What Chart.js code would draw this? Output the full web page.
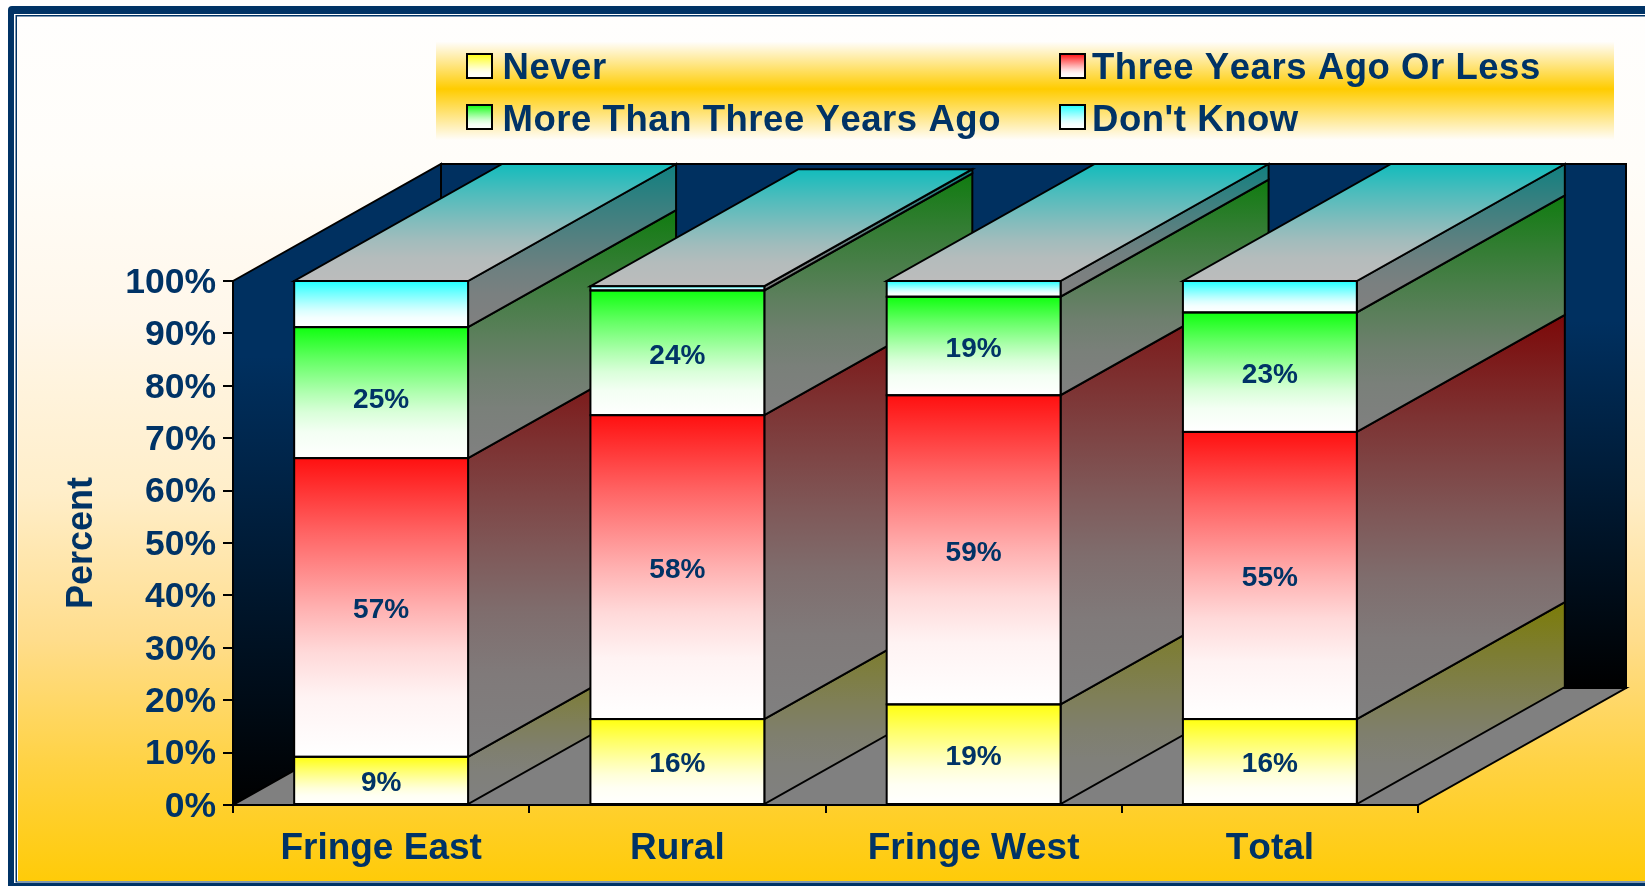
<!DOCTYPE html>
<html>
<head>
<meta charset="utf-8">
<title>Percent by area</title>
<script src="https://cdn.jsdelivr.net/npm/chart.js@4"></script>
<style>
  html, body { margin: 0; padding: 0; background: #fff; }
  canvas { display: block; }
</style>
</head>
<body>
<canvas id="areaChart" width="1645" height="886"></canvas>
<script>
// Chart data
const categories = ['Fringe East', 'Rural', 'Fringe West', 'Total'];
const seriesNames = ['Never', 'Three Years Ago Or Less', 'More Than Three Years Ago', "Don't Know"];
const never = [9.2, 16.4, 19.2, 16.4];
const threeOrLess = [57, 58, 59, 54.8];
const moreThanThree = [25, 23.8, 18.8, 22.8];
const dontKnow = [8.8, 0.8, 3, 6];
const seriesValues = [never, threeOrLess, moreThanThree, dontKnow];

// Styles
const navy = '#003366';
const fontName = '"Liberation Sans", Arial, sans-serif';
const bright = ['#ffff10', '#ff1010', '#10ff10', '#20ffff'];
const dark = ['#7c7c08', '#7c0808', '#107c10', '#108080'];
const depthX = 208;
const depthY = 117;
// the one label that sits off centre in its segment
const labelNudge = { '2,0': 5 };

// same falloff for fronts, sides and tops: quick at first, long pale tail
const fadeStops = [[0, 0], [0.25, 0.35], [0.5, 0.67], [0.65, 0.84], [0.8, 0.95], [1, 1]];

function fade(ctx, y0, y1, from, to) {
    const g = ctx.createLinearGradient(0, y0, 0, y1);
    const a = [1, 3, 5].map(i => parseInt(from.substr(i, 2), 16));
    const b = [1, 3, 5].map(i => parseInt(to.substr(i, 2), 16));
    fadeStops.forEach(s => {
        g.addColorStop(s[0], 'rgb(' + a.map((c, i) => Math.round(c + (b[i] - c) * s[1])).join(',') + ')');
    });
    return g;
}

function frontFill(context) {
    const chart = context.chart;
    const d = context.datasetIndex;
    if (!chart.scales.y || context.dataIndex === undefined) return bright[d];
    let low = 0;
    for (let k = 0; k < d; k++) low += seriesValues[k][context.dataIndex];
    const high = low + seriesValues[d][context.dataIndex];
    const y0 = chart.scales.y.getPixelForValue(high);
    const y1 = chart.scales.y.getPixelForValue(low);
    if (!isFinite(y0) || !isFinite(y1)) return bright[d];
    return fade(chart.ctx, y0, y1, bright[d], '#ffffff');
}

function poly(ctx, pts, fill) {
    ctx.beginPath();
    pts.forEach((p, i) => i ? ctx.lineTo(p[0], p[1]) : ctx.moveTo(p[0], p[1]));
    ctx.closePath();
    ctx.fillStyle = fill;
    ctx.fill();
    ctx.strokeStyle = '#000';
    ctx.lineWidth = 2;
    ctx.stroke();
}

// Page background, frame, legend band and the walls/floor of the box
const backdrop = {
    id: 'backdrop',
    beforeDraw(chart) {
        const ctx = chart.ctx;
        const w = chart.width, h = chart.height;
        ctx.fontKerning = 'none';
        ctx.save();
        ctx.fillStyle = '#ffffff';
        ctx.fillRect(0, 0, w, h);

        // frame
        ctx.fillStyle = '#003366';
        ctx.beginPath();
        ctx.roundRect(8, 6, w, h, 4);
        ctx.fill();
        ctx.fillStyle = '#ffffff';
        ctx.fillRect(14, 14, w, h - 17);
        ctx.fillStyle = '#003366';
        ctx.fillRect(15.5, 15, w, h - 18.5);
        ctx.fillStyle = '#ffffff';
        ctx.fillRect(17, 16.5, w, h - 21);
        ctx.fillStyle = '#003366';
        ctx.fillRect(0, 883, w, 3);
        ctx.fillStyle = '#ffffff';
        ctx.fillRect(0, 883, 8, 3);

        // page gradient
        const bg = ctx.createLinearGradient(0, 17, 0, 881);
        bg.addColorStop(0, '#fffefd');
        bg.addColorStop(0.17, '#fffdf9');
        bg.addColorStop(0.35, '#fff7ea');
        bg.addColorStop(0.55, '#ffeec9');
        bg.addColorStop(0.72, '#ffdd8c');
        bg.addColorStop(0.87, '#ffd241');
        bg.addColorStop(1, '#ffcb08');
        ctx.fillStyle = bg;
        ctx.fillRect(18, 17, w - 18, 864);

        // legend band
        const band = ctx.createLinearGradient(0, 42, 0, 140);
        band.addColorStop(0, '#fffdfa');
        band.addColorStop(0.48, '#ffcc00');
        band.addColorStop(1, '#fffdfa');
        ctx.fillStyle = band;
        ctx.fillRect(436, 42, 1178, 98);

        // walls and floor
        const a = chart.chartArea;
        const wall = ctx.createLinearGradient(0, a.top - depthY, 0, a.bottom - depthY);
        wall.addColorStop(0, '#003060');
        wall.addColorStop(0.3, '#003060');
        wall.addColorStop(1, '#000000');
        poly(ctx, [[a.left + depthX, a.top - depthY], [a.right + depthX, a.top - depthY],
                   [a.right + depthX, a.bottom - depthY], [a.left + depthX, a.bottom - depthY]], wall);
        const side = ctx.createLinearGradient(0, a.top - depthY, 0, a.bottom);
        side.addColorStop(0, '#003060');
        side.addColorStop(0.3, '#003060');
        side.addColorStop(1, '#000000');
        poly(ctx, [[a.left, a.top], [a.left + depthX, a.top - depthY],
                   [a.left + depthX, a.bottom - depthY], [a.left, a.bottom]], side);
        poly(ctx, [[a.left, a.bottom], [a.right, a.bottom],
                   [a.right + depthX, a.bottom - depthY], [a.left + depthX, a.bottom - depthY]], '#808080');
        ctx.restore();
    }
};

// Side and top faces of the bars, painted left to right
const barDepth = {
    id: 'barDepth',
    beforeDatasetsDraw(chart) {
        const ctx = chart.ctx;
        ctx.save();
        categories.forEach((cat, i) => {
            seriesValues.forEach((vals, d) => {
                const el = chart.getDatasetMeta(d).data[i];
                const x = el.x + el.width / 2;
                const g = fade(ctx, el.y - depthY, el.base, dark[d], '#808080');
                poly(ctx, [[x, el.y], [x + depthX, el.y - depthY], [x + depthX, el.base - depthY], [x, el.base]], g);
            });
            const top = chart.getDatasetMeta(seriesValues.length - 1).data[i];
            const l = top.x - top.width / 2, r = top.x + top.width / 2;
            const g = fade(ctx, top.y - depthY, top.y, '#12bcbc', '#bcbcbc');
            poly(ctx, [[l, top.y], [r, top.y], [r + depthX, top.y - depthY], [l + depthX, top.y - depthY]], g);
        });
        ctx.restore();
    },
    afterDatasetsDraw(chart) {
        const ctx = chart.ctx;
        ctx.save();
        ctx.strokeStyle = '#000';
        ctx.lineWidth = 2;
        seriesValues.forEach((vals, d) => {
            chart.getDatasetMeta(d).data.forEach((el, i) => {
                ctx.strokeRect(el.x - el.width / 2, el.y, el.width, el.base - el.y);
                if (d < 3) {
                    ctx.fillStyle = navy;
                    ctx.font = 'bold 28px ' + fontName;
                    ctx.textAlign = 'center';
                    ctx.textBaseline = 'middle';
                    const nudge = labelNudge[d + ',' + i] || 0;
                    ctx.fillText(Math.round(vals[i]) + '%', el.x, (el.y + el.base) / 2 + 3 + nudge);
                }
            });
        });
        ctx.restore();
    }
};

// Legend, two columns inside the band
const bandLegend = {
    id: 'bandLegend',
    afterDraw(chart) {
        const ctx = chart.ctx;
        const boxX = [467, 1060];
        const textX = [502.5, 1092];
        const boxY = [54, 105];
        const baseY = [78.5, 131];
        const order = [[0, 0], [1, 0], [0, 1], [1, 1]];
        ctx.save();
        seriesNames.forEach((name, n) => {
            const col = order[n][0], row = order[n][1];
            ctx.fillStyle = fade(ctx, boxY[row], boxY[row] + 24, bright[n], '#ffffff');
            ctx.fillRect(boxX[col], boxY[row], 25, 24);
            ctx.strokeStyle = '#000';
            ctx.lineWidth = 2;
            ctx.strokeRect(boxX[col], boxY[row], 25, 24);
            ctx.fillStyle = navy;
            ctx.font = 'bold 36.5px ' + fontName;
            ctx.letterSpacing = '0.55px';
            ctx.textAlign = 'left';
            ctx.textBaseline = 'alphabetic';
            ctx.fillText(name, textX[col], baseY[row]);
        });
        ctx.restore();
    }
};

const areaChart = new Chart(document.getElementById('areaChart').getContext('2d'), {
    type: 'bar',
    data: {
        labels: categories,
        datasets: seriesNames.map((name, d) => ({
            label: name,
            data: seriesValues[d],
            backgroundColor: frontFill,
            borderWidth: 0,
            barPercentage: 0.587,
            categoryPercentage: 1
        }))
    },
    options: {
        responsive: false,
        animation: false,
        layout: { padding: { left: 0, top: 281, right: 227, bottom: 0 } },
        plugins: {
            legend: { display: false },
            title: { display: false },
            tooltip: { enabled: false }
        },
        scales: {
            x: {
                stacked: true,
                afterFit(scale) { scale.height = 81; },
                grid: { drawOnChartArea: false, color: '#000', lineWidth: 2, tickLength: 8 },
                border: { display: true, color: '#000', width: 2 },
                ticks: {
                    color: navy,
                    padding: 14,
                    maxRotation: 0,
                    font: { family: fontName, size: 37, weight: 'bold' }
                }
            },
            y: {
                stacked: true,
                min: 0,
                max: 100,
                afterFit(scale) { scale.width = 233; },
                grid: { drawOnChartArea: false, color: '#000', lineWidth: 2, tickLength: 10 },
                border: { display: true, color: '#000', width: 2 },
                title: {
                    display: true,
                    text: 'Percent',
                    color: navy,
                    padding: { top: 60, bottom: 0 },
                    font: { family: fontName, size: 36, weight: 'bold' }
                },
                ticks: {
                    stepSize: 10,
                    color: navy,
                    padding: 7,
                    labelOffset: 2,
                    callback: v => v + '%',
                    font: { family: fontName, size: 35.5, weight: 'bold' }
                }
            }
        }
    },
    plugins: [backdrop, barDepth, bandLegend]
});
</script>
</body>
</html>
